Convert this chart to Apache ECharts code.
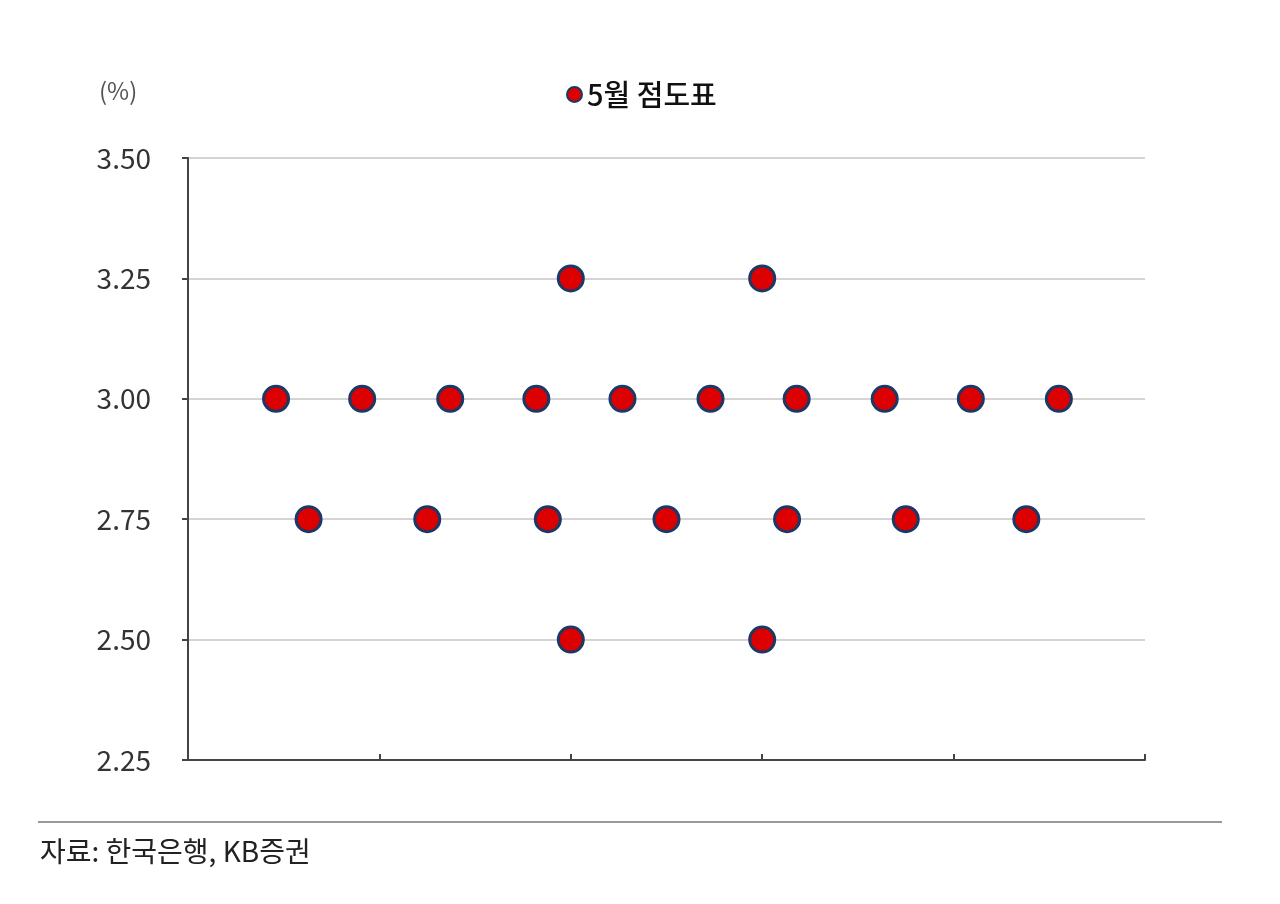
<!DOCTYPE html>
<html>
<head>
<meta charset="utf-8">
<script src="https://cdn.jsdelivr.net/npm/echarts@6/dist/echarts.min.js"></script>
<style>
html, body {margin: 0; padding: 0; background: #fff;}
#chart {width: 1280px; height: 904px;}
</style>
</head>
<body>
<div id="chart"></div>
<script>
// 점도표: 금리 수준별 점의 가로 위치
var rateLevels = [3.25, 3.00, 2.75, 2.50];
var dots325 = [2.0, 3.0];
var dots300 = [0.46, 0.91, 1.37, 1.82, 2.27, 2.73, 3.18, 3.64, 4.09, 4.55];
var dots275 = [0.63, 1.25, 1.88, 2.50, 3.13, 3.75, 4.38];
var dots250 = [2.0, 3.0];
var yTicks = [2.25, 2.50, 2.75, 3.00, 3.25, 3.50];
var seriesName = '5월 점도표';
var sourceText = '자료: 한국은행, KB증권';

var rows = [dots325, dots300, dots275, dots250];
var dataArr = [];
for (var i = 0; i < rows.length; i++) {
	for (var j = 0; j < rows[i].length; j++) {
		dataArr.push([rows[i][j], rateLevels[i]]);
	}
}

var font = '"Noto Sans CJK KR", "Noto Sans", sans-serif';

var option = {
	animation: false,
	textStyle: {fontFamily: font},
	title: {
		text: '(%)', left: 94, top: 74,
		textStyle: {fontSize: 24, fontWeight: 'normal', color: '#555', fontFamily: font}
	},
	legend: {
		data: [seriesName],
		left: 561, top: 75,
		icon: 'circle', itemWidth: 15, itemHeight: 15, itemGap: 6,
		textStyle: {fontSize: 29, fontWeight: 500, color: '#111', fontFamily: font}
	},
	grid: {left: 188, right: 135, top: 158, bottom: 144},
	xAxis: {
		type: 'value', min: 0, max: 5, interval: 1,
		axisLine: {show: true, lineStyle: {color: '#444', width: 2}},
		axisTick: {show: true, inside: true, length: 6, lineStyle: {color: '#444', width: 2}},
		axisLabel: {show: false},
		splitLine: {show: false}
	},
	yAxis: {
		type: 'value', min: yTicks[0], max: yTicks[yTicks.length - 1], interval: 0.25,
		axisLine: {show: true, lineStyle: {color: '#444', width: 2}},
		axisTick: {show: true, length: 6, lineStyle: {color: '#444', width: 2}},
		axisLabel: {
			margin: 37, fontSize: 28, color: '#333', fontFamily: font,
			formatter: function(v) { return v.toFixed(2); }
		},
		splitLine: {show: true, lineStyle: {color: '#d4d4d4', width: 2}}
	},
	series: [{
		name: seriesName,
		type: 'scatter',
		symbol: 'circle',
		symbolSize: 25,
		itemStyle: {color: '#dc0000', opacity: 1, borderColor: '#1b3866', borderWidth: 3},
		data: dataArr
	}],
	graphic: [
		{type: 'line', shape: {x1: 38, y1: 822, x2: 1222, y2: 822}, style: {stroke: '#999', lineWidth: 2}},
		{type: 'text', left: 40, top: 837, style: {text: sourceText, fontSize: 28, fill: '#222', fontFamily: font}}
	]
};

var myChart = echarts.init(document.getElementById('chart'));
myChart.setOption(option);
</script>
</body>
</html>
